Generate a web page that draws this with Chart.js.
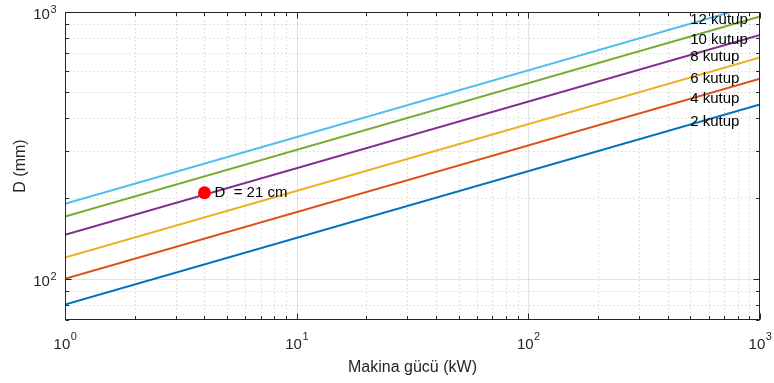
<!DOCTYPE html>
<html>
<head>
<meta charset="utf-8">
<script src="https://cdn.jsdelivr.net/npm/chart.js@4/dist/chart.umd.min.js"></script>
<style>
  html, body { margin: 0; padding: 0; background: #ffffff; }
  #wrap { width: 774px; height: 383px; }
</style>
</head>
<body>
<div id="wrap"><canvas id="chart" width="774" height="383"></canvas></div>
<script>
// Machine power (kW) at the ends of each line
const powerKW = [1, 1000];

// Rotor diameter D (mm) for each pole count
const d2Pole  = [80, 450];
const d4Pole  = [100, 562];
const d6Pole  = [120, 675];
const d8Pole  = [146, 821];
const d10Pole = [171, 962];
const d12Pole = [191, 1075];

const seriesNames  = ['2 kutup', '4 kutup', '6 kutup', '8 kutup', '10 kutup', '12 kutup'];
const seriesColors = ['#0072BD', '#D95319', '#EDB120', '#7E2F8E', '#77AC30', '#4DBEEE'];

// Where the pole-count labels sit (kW, mm)
const labelPowerKW = 500;
const labelD = [388, 474, 563, 679, 788, 937];

// Selected design point
const pointPowerKW = [4];
const pointD = [210];
const pointText = 'D  = 21 cm';

// Axis decades and their exponents
const xDecades = [1, 10, 100, 1000];
const xExponents = ['0', '1', '2', '3'];
const yDecades = [100, 1000];
const yExponents = ['2', '3'];

const FONT = '"Liberation Sans", Arial, Helvetica, sans-serif';
const AXIS_COLOR = '#262626';

const seriesValues = [d2Pole, d4Pole, d6Pole, d8Pole, d10Pole, d12Pole];

function toPoints(xs, ys) {
  return xs.map((x, i) => ({ x: x, y: ys[i] }));
}

// All 1..9 x 10^n values inside [min, max]
function logSteps(min, max) {
  const out = [];
  for (let e = Math.floor(Math.log10(min)); e <= Math.ceil(Math.log10(max)); e++) {
    for (let m = 1; m <= 9; m++) {
      const v = m * Math.pow(10, e);
      if (v >= min - 1e-9 && v <= max + 1e-9) out.push({ v: v, major: m === 1 });
    }
  }
  return out;
}

const logAxes = {
  id: 'logAxes',
  beforeDatasetsDraw(chart) {
    const { ctx, chartArea: a, scales: { x, y } } = chart;
    ctx.save();
    ctx.lineWidth = 1;
    // minor grid (dotted) first, then major grid (solid)
    for (const pass of [false, true]) {
      ctx.strokeStyle = pass ? 'rgba(0,0,0,0.11)' : 'rgba(0,0,0,0.15)';
      ctx.setLineDash(pass ? [] : [1.5, 2.5]);
      for (const t of logSteps(x.min, x.max)) {
        if (t.major !== pass) continue;
        const px = Math.round(x.getPixelForValue(t.v)) + 0.5;
        if (px <= a.left + 1 || px >= a.right - 1) continue;
        ctx.beginPath(); ctx.moveTo(px, a.top); ctx.lineTo(px, a.bottom); ctx.stroke();
      }
      for (const t of logSteps(y.min, y.max)) {
        if (t.major !== pass) continue;
        const py = Math.round(y.getPixelForValue(t.v)) + 0.5;
        if (py <= a.top + 1 || py >= a.bottom - 1) continue;
        ctx.beginPath(); ctx.moveTo(a.left, py); ctx.lineTo(a.right, py); ctx.stroke();
      }
    }
    ctx.restore();
  },
  afterDatasetsDraw(chart) {
    const { ctx, chartArea: a, scales: { x, y } } = chart;
    ctx.save();
    // pole-count labels
    ctx.fillStyle = '#000000';
    ctx.font = '15px ' + FONT;
    ctx.textAlign = 'left';
    ctx.textBaseline = 'middle';
    const lx = x.getPixelForValue(labelPowerKW);
    seriesNames.forEach((name, i) => {
      ctx.fillText(name, lx, y.getPixelForValue(labelD[i]));
    });
    // design point text
    ctx.fillText(pointText, x.getPixelForValue(pointPowerKW[0]) + 10, y.getPixelForValue(pointD[0]));

    // box and inward ticks
    ctx.strokeStyle = AXIS_COLOR;
    ctx.lineWidth = 1;
    ctx.setLineDash([]);
    const L = Math.round(a.left) + 0.5, R = Math.round(a.right) - 0.5;
    const T = Math.round(a.top) + 0.5, B = Math.round(a.bottom) - 0.5;
    ctx.strokeRect(L, T, R - L, B - T);
    ctx.beginPath();
    for (const t of logSteps(x.min, x.max)) {
      const len = t.major ? 6 : 3.5;
      const px = Math.round(x.getPixelForValue(t.v)) + 0.5;
      ctx.moveTo(px, B); ctx.lineTo(px, B - len);
      ctx.moveTo(px, T); ctx.lineTo(px, T + len);
    }
    for (const t of logSteps(y.min, y.max)) {
      const len = t.major ? 6 : 3.5;
      const py = Math.round(y.getPixelForValue(t.v)) + 0.5;
      ctx.moveTo(L, py); ctx.lineTo(L + len, py);
      ctx.moveTo(R, py); ctx.lineTo(R - len, py);
    }
    ctx.stroke();
    ctx.restore();
  },
  afterDraw(chart) {
    const { ctx, chartArea: a, scales: { x, y } } = chart;
    ctx.save();
    ctx.fillStyle = AXIS_COLOR;
    ctx.textBaseline = 'alphabetic';
    ctx.textAlign = 'left';
    const big = '15px ' + FONT, small = '11px ' + FONT;
    // x decade labels: 10 with a raised exponent
    xDecades.forEach((v, i) => {
      ctx.font = big; const w1 = ctx.measureText('10').width;
      ctx.font = small; const w2 = ctx.measureText(xExponents[i]).width;
      const px = x.getPixelForValue(v);
      const start = px - (w1 + w2) / 2;
      ctx.font = big; ctx.fillText('10', start, a.bottom + 29);
      ctx.font = small; ctx.fillText(xExponents[i], start + w1 + 0.5, a.bottom + 20);
    });
    // y decade labels
    yDecades.forEach((v, i) => {
      ctx.font = big; const w1 = ctx.measureText('10').width;
      ctx.font = small; const w2 = ctx.measureText(yExponents[i]).width;
      const py = y.getPixelForValue(v);
      const start = a.left - 9 - (w1 + w2);
      ctx.font = big; ctx.fillText('10', start, py + 7);
      ctx.font = small; ctx.fillText(yExponents[i], start + w1 + 0.5, py + 1);
    });
    ctx.restore();
  }
};

const datasets = [
  {
    type: 'scatter',
    label: 'D',
    data: toPoints(pointPowerKW, pointD),
    backgroundColor: '#FF0000',
    borderColor: '#FF0000',
    pointRadius: 6.5,
    pointHoverRadius: 6.5,
    borderWidth: 0
  }
].concat(seriesValues.map((vals, i) => ({
  type: 'line',
  label: seriesNames[i],
  data: toPoints(powerKW, vals),
  borderColor: seriesColors[i],
  backgroundColor: seriesColors[i],
  borderWidth: 2,
  pointRadius: 0,
  tension: 0,
  fill: false,
  clip: 0
})));

new Chart(document.getElementById('chart'), {
  data: { datasets: datasets },
  options: {
    responsive: false,
    animation: false,
    events: [],
    layout: { padding: { top: 12, right: 14, bottom: 0, left: 0 } },
    plugins: { legend: { display: false }, tooltip: { enabled: false }, title: { display: false } },
    scales: {
      x: {
        type: 'logarithmic',
        min: 1,
        max: 1000,
        grid: { display: false },
        border: { display: false },
        ticks: { display: false },
        title: {
          display: true,
          text: 'Makina gücü (kW)',
          color: AXIS_COLOR,
          font: { family: FONT, size: 16 },
          padding: { top: 0, bottom: 6 }
        },
        afterFit(scale) { scale.height = 63; }
      },
      y: {
        type: 'logarithmic',
        min: 70,
        max: 1000,
        grid: { display: false },
        border: { display: false },
        ticks: { display: false },
        title: {
          display: true,
          text: 'D (mm)',
          color: AXIS_COLOR,
          font: { family: FONT, size: 16 },
          padding: { top: 11, bottom: 0 }
        },
        afterFit(scale) { scale.width = 65; }
      }
    }
  },
  plugins: [logAxes]
});
</script>
</body>
</html>
